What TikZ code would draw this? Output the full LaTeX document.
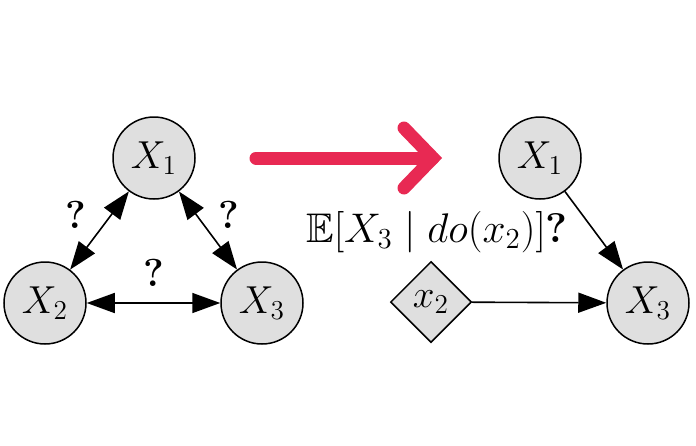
\RequirePackage{fix-cm}
\documentclass[tikz,border=0pt]{standalone}
\usepackage{amssymb}
\DeclareFontFamily{U}{msb}{}
\DeclareFontShape{U}{msb}{m}{n}{<->msbm10}{}
\usetikzlibrary{shapes.geometric,arrows.meta}
\definecolor{nodefill}{RGB}{223,223,223}
\definecolor{bigarrow}{RGB}{232,41,83}
\begin{document}
\begin{tikzpicture}[x=0.5pt,y=-0.5pt,
  varnode/.style={circle,draw=black,line width=0.75pt,fill=nodefill,minimum size=41pt,inner sep=0pt,font=\fontsize{19.5}{23}\selectfont},
  donode/.style={diamond,aspect=1,draw=black,line width=0.75pt,fill=nodefill,minimum width=40.5pt,minimum height=40.5pt,inner sep=0pt,font=\fontsize{19.5}{23}\selectfont},
  edge/.style={line width=0.8pt,-{Triangle[length=14pt,width=10pt]}},
  biedge/.style={line width=0.8pt,{Triangle[length=14pt,width=10pt]}-{Triangle[length=14pt,width=10pt]}},
  qlabel/.style={font=\fontsize{19.5}{23}\selectfont\bfseries},
  fat/.style={draw=bigarrow,line width=6.5pt,line cap=round,line join=miter}]
\useasboundingbox (0,0) rectangle (696,445);
% left graph
\node[varnode] (a1) at (154,158) {$X_1$};
\node[varnode] (a2) at (45,303) {$X_2$};
\node[varnode] (a3) at (262,303) {$X_3$};
\draw[biedge] (a1) -- (a2);
\draw[biedge] (a1) -- (a3);
\draw[biedge] (a2) -- (a3);
\node[qlabel] (q1) at (76,215) {?};
\node[qlabel] (q2) at (229,215) {?};
\node[qlabel] (q3) at (154,273) {?};
% big arrow
\coordinate (s0) at (256,158);
\coordinate (s1) at (433,158);
\coordinate (h1) at (404,128);
\coordinate (h2) at (404,188);
\draw[fat] (s0) -- (s1);
\draw[fat] (h1) -- (s1) -- (h2);
% query text
\node[font=\fontsize{20.7}{24}\selectfont] (qt) at (437,232) {$\mathbb{E}[X_3 \mid do(x_2)]$\textbf{?}};
% right graph
\node[varnode] (b1) at (540,158) {$X_1$};
\node[varnode] (b3) at (648,303) {$X_3$};
\node[donode] (bx) at (431,302) {$x_2$};
\draw[edge] (b1) -- (b3);
\draw[edge] (bx) -- (b3);
\end{tikzpicture}
\end{document}
